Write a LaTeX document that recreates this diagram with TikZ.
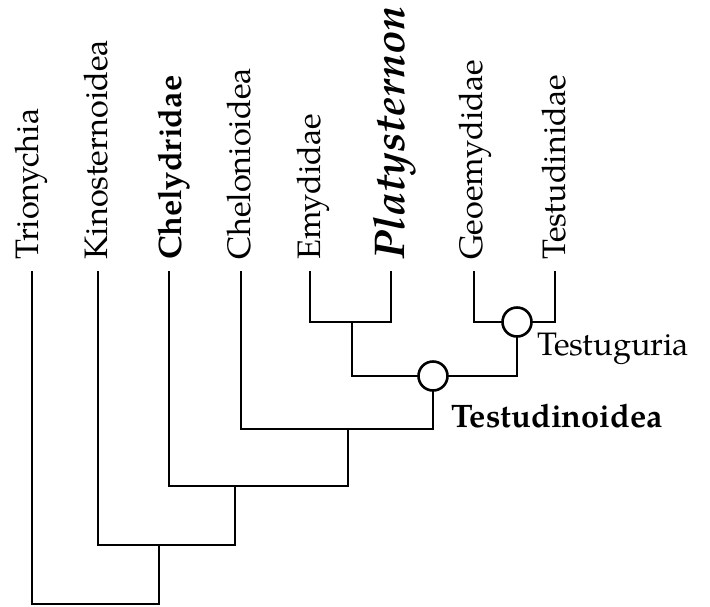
\documentclass[tikz,border=0pt]{standalone}
\usepackage{fontspec}
\setmainfont{TeX Gyre Pagella}
\begin{document}
\begin{tikzpicture}[x=1pt,y=-1pt,
  branch/.style={line width=2.6pt, line cap=rect},
  clade/.style={circle, draw, fill=white, line width=2.6pt, minimum size=29pt, inner sep=0pt},
  leaf/.style={rotate=90, anchor=base west, inner sep=0pt, font=\fontsize{32.5}{38}\selectfont},
  cladename/.style={anchor=base west, inner sep=0pt, font=\fontsize{32.5}{38}\selectfont}]
  \useasboundingbox (0,0) rectangle (710,606);

  % tips of the terminal branches
  \coordinate (tri) at (32,272);
  \coordinate (kin) at (98,272);
  \coordinate (chy) at (169,272);
  \coordinate (che) at (241,272);
  \coordinate (emy) at (310,272);
  \coordinate (pla) at (391,272);
  \coordinate (geo) at (474,272);
  \coordinate (tes) at (555,272);

  % terminal taxon names
  \node[leaf] (triL) at (38,260) {Trionychia};
  \node[leaf] (kinL) at (107,260) {Kinosternoidea};
  \node[leaf] (chyL) at (181,260) {\bfseries Chelydridae};
  \node[leaf] (cheL) at (250,260) {Chelonioidea};
  \node[leaf] (emyL) at (320,260) {Emydidae};
  \node[leaf, font=\fontsize{43}{50}\selectfont] (plaL) at (404,260) {\bfseries\itshape Platysternon};
  \node[leaf] (geoL) at (482,260) {Geoemydidae};
  \node[leaf] (tesL) at (565,260) {Testudinidae};

  % internal nodes
  \coordinate (c1) at (352,322);
  \node[clade] (c2) at (517,322) {};
  \node[clade] (c3) at (433,376) {};
  \coordinate (c4) at (348,429);
  \coordinate (c5) at (235,486);
  \coordinate (c6) at (159,545);
  \coordinate (root) at (159,604);

  % branches
  \draw[branch] (emy) |- (c1) -| (pla);
  \draw[branch] (geo) |- (c2);
  \draw[branch] (c2) -| (tes);
  \draw[branch] (c1) |- (c3);
  \draw[branch] (c2) |- (c3);
  \draw[branch] (c3) |- (c4);
  \draw[branch] (che) |- (c4);
  \draw[branch] (c4) |- (c5);
  \draw[branch] (chy) |- (c5);
  \draw[branch] (c5) |- (c6);
  \draw[branch] (kin) |- (c6);
  \draw[branch] (c6) -- (root);
  \draw[branch] (tri) |- (root);

  % clade names
  \node[cladename] (tgL) at (537,355) {Testuguria};
  \node[cladename] (tdL) at (451,427) {\bfseries Testudinoidea};
\end{tikzpicture}
\end{document}
